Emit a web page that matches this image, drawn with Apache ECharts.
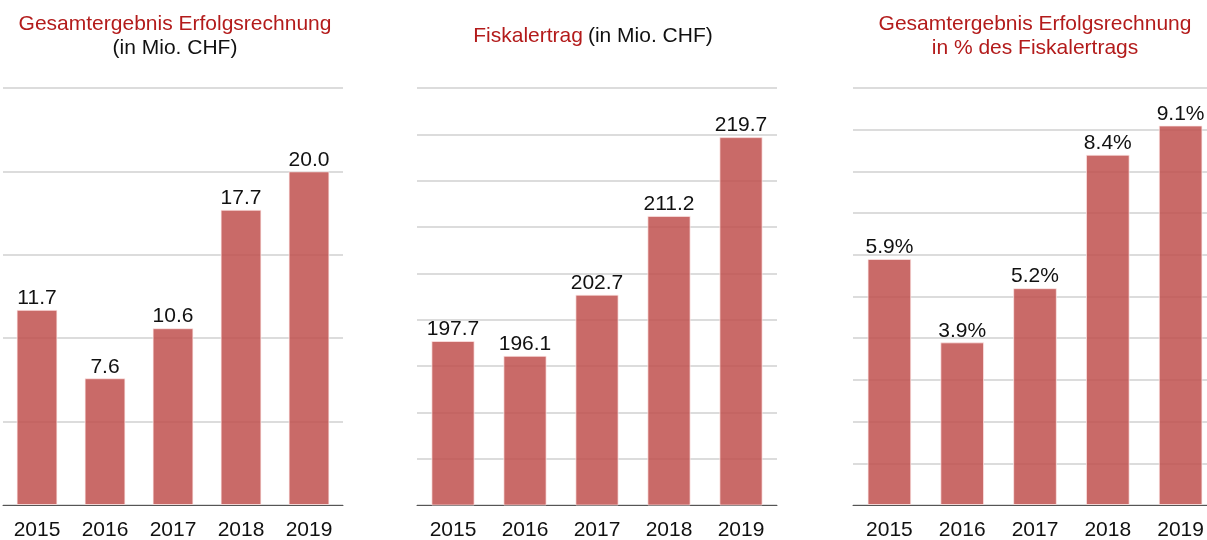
<!DOCTYPE html>
<html lang="de">
<head>
    <meta charset="UTF-8">
    <title>Gesamtergebnis Erfolgsrechnung</title>
    <script src="https://cdn.jsdelivr.net/npm/echarts@6/dist/echarts.min.js"></script>
    <style>
        html, body { margin: 0; padding: 0; background: #fff; }
        #chart { width: 1207px; height: 540px; }
    </style>
</head>
<body>
<div id="chart"></div>
<script type="text/javascript">
    // Daten
    var years = ['2015', '2016', '2017', '2018', '2019'];
    var gesamtergebnis = [11.7, 7.6, 10.6, 17.7, 20.0];
    var fiskalertrag = [197.7, 196.1, 202.7, 211.2, 219.7];
    var anteilProzent = [5.9, 3.9, 5.2, 8.4, 9.1];

    var red = '#b31b1b';
    var font = 'Liberation Sans, Arial, sans-serif';
    var fs = 21;

    var chart = echarts.init(document.getElementById('chart'));

    function xAxisFor(i) {
        return {
            type: 'category', gridIndex: i, data: years,
            axisTick: {show: false},
            axisLine: {lineStyle: {color: '#555', width: 1}},
            axisLabel: {color: '#111', fontSize: fs, fontFamily: font, margin: 15}
        };
    }
    function yAxisFor(i, min, max, step) {
        return {
            type: 'value', gridIndex: i, min: min, max: max, interval: step,
            axisLabel: {show: false}, axisLine: {show: false}, axisTick: {show: false},
            splitLine: {lineStyle: {color: '#dcdcdc', width: 2}}
        };
    }
    function barFor(i, data, fmt) {
        return {
            type: 'bar', xAxisIndex: i, yAxisIndex: i, data: data,
            barWidth: '60%',
            itemStyle: {color: 'rgba(192,80,77,0.85)', borderColor: 'rgba(255,235,235,0.7)', borderWidth: 1},
            label: {show: true, position: 'top', distance: 1, color: '#111',
                fontSize: fs, fontFamily: font, formatter: fmt}
        };
    }

    var option = {
        animation: false,
        title: [
            {
                text: '{r|Gesamtergebnis Erfolgsrechnung}\n{b|(in Mio. CHF)}',
                left: 170, top: 7, textAlign: 'center',
                textStyle: {rich: {
                    r: {color: red, fontSize: fs, fontFamily: font, fontWeight: 'normal', lineHeight: 24, align: 'center'},
                    b: {color: '#111', fontSize: fs, fontFamily: font, fontWeight: 'normal', lineHeight: 24, align: 'center'}
                }}
            },
            {
                text: '{r|Fiskalertrag} {b|(in Mio. CHF)}',
                left: 588, top: 19, textAlign: 'center',
                textStyle: {rich: {
                    r: {color: red, fontSize: fs, fontFamily: font, fontWeight: 'normal', lineHeight: 24},
                    b: {color: '#111', fontSize: fs, fontFamily: font, fontWeight: 'normal', lineHeight: 24}
                }}
            },
            {
                text: 'Gesamtergebnis Erfolgsrechnung\nin % des Fiskalertrags',
                left: 1030, top: 7, textAlign: 'center',
                textStyle: {color: red, fontSize: fs, fontFamily: font, fontWeight: 'normal', lineHeight: 24}
            }
        ],
        grid: [
            {left: 3, width: 340, top: 88, bottom: 35, outerBoundsMode: 'none'},
            {left: 417, width: 360, top: 88, bottom: 35, outerBoundsMode: 'none'},
            {left: 853, width: 364, top: 88, bottom: 35, outerBoundsMode: 'none'}
        ],
        xAxis: [xAxisFor(0), xAxisFor(1), xAxisFor(2)],
        yAxis: [yAxisFor(0, 0, 25, 5), yAxisFor(1, 180, 225, 5), yAxisFor(2, 0, 10, 1)],
        series: [
            barFor(0, gesamtergebnis, function (p) { return p.value.toFixed(1); }),
            barFor(1, fiskalertrag, function (p) { return p.value.toFixed(1); }),
            barFor(2, anteilProzent, function (p) { return p.value.toFixed(1) + '%'; })
        ]
    };
    chart.setOption(option);
</script>
</body>
</html>
